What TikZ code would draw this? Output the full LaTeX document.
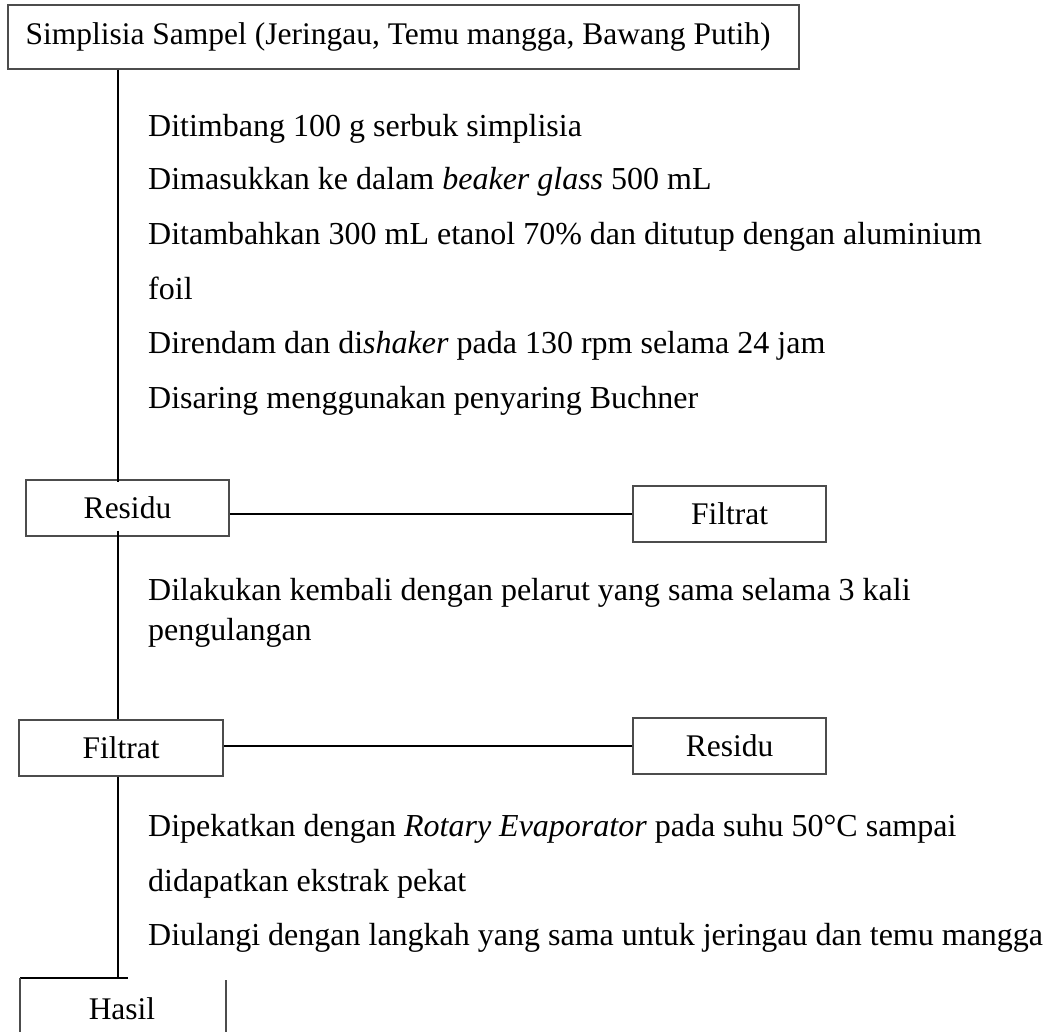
\documentclass[tikz,border=0pt]{standalone}
\usepackage{fontspec}
\setmainfont{Liberation Serif}
\begin{document}
\begin{tikzpicture}[x=1pt,y=-1pt,
  box/.style={draw=black!70,line width=1.1pt,inner sep=0pt,font=\fontsize{31.5}{37}\selectfont},
  conn/.style={draw=black,line width=1.8pt},
  steptext/.style={anchor=base west,inner sep=0pt,font=\fontsize{32}{38}\selectfont}]
\useasboundingbox (0,0) rectangle (1057,1032);
\fill[white] (0,0) rectangle (1057,1032);
\coordinate (spine) at (118,0);
% boxes
\node[box,minimum width=791pt,minimum height=64pt] (top) at (403.5,37)
  {\hspace*{-11pt}\raisebox{-2pt}{Simplisia Sampel (Jeringau, Temu mangga, Bawang Putih)}};
\node[box,minimum width=203pt,minimum height=56pt] (res1) at (127.5,508) {Residu};
\node[box,minimum width=193pt,minimum height=56pt] (fil1) at (729.5,514) {Filtrat};
\node[box,minimum width=204pt,minimum height=56pt] (fil2) at (121,748) {Filtrat};
\node[box,minimum width=193pt,minimum height=56pt] (res2) at (729.5,746) {Residu};
% partial Hasil box
\node[inner sep=0pt,anchor=base,font=\fontsize{31.5}{37}\selectfont] (hasil) at (122,1019) {Hasil};
\coordinate (hTL) at (20,978);
\coordinate (hTR) at (128,978);
\coordinate (hBL) at (20,1032);
\coordinate (hRT) at (226,980);
\coordinate (hRB) at (226,1032);
\draw[black,line width=1.1pt] (hTL) -- (hTR);
\draw[black!70,line width=1.1pt] (hTL) -- (hBL);
\draw[black!70,line width=1.1pt] (hRT) -- (hRB);
% step texts
\node[steptext] (t1) at (148,137) {Ditimbang 100 g serbuk simplisia};
\node[steptext] (t2) at (148,190) {Dimasukkan ke dalam \textit{beaker glass} 500 mL};
\node[steptext] (t3) at (148,245) {Ditambahkan 300 mL etanol 70\% dan ditutup dengan aluminium};
\node[steptext] (t4) at (148,299) {foil};
\node[steptext] (t5) at (148,353) {Direndam dan di\textit{shaker} pada 130 rpm selama 24 jam};
\node[steptext] (t6) at (148,408) {Disaring menggunakan penyaring Buchner};
\node[steptext] (t7) at (148,600) {Dilakukan kembali dengan pelarut yang sama selama 3 kali};
\node[steptext] (t8) at (148,640) {pengulangan};
\node[steptext] (t9) at (148,836) {Dipekatkan dengan \textit{Rotary Evaporator} pada suhu 50°C sampai};
\node[steptext] (t10) at (148,891) {didapatkan ekstrak pekat};
\node[steptext] (t11) at (148,945) {Diulangi dengan langkah yang sama untuk jeringau dan temu mangga};
% connectors
\draw[conn] (top.south -| spine) -- ([yshift=-3pt]res1.north -| spine);
\draw[conn] (fil1.west) -- (fil1.west -| res1.east);
\draw[conn] ([yshift=6pt]res1.south -| spine) -- (fil2.north -| spine);
\draw[conn] (res2.west) -- (res2.west -| fil2.east);
\draw[conn] (fil2.south -| spine) -- (hTL -| spine);
\end{tikzpicture}
\end{document}
